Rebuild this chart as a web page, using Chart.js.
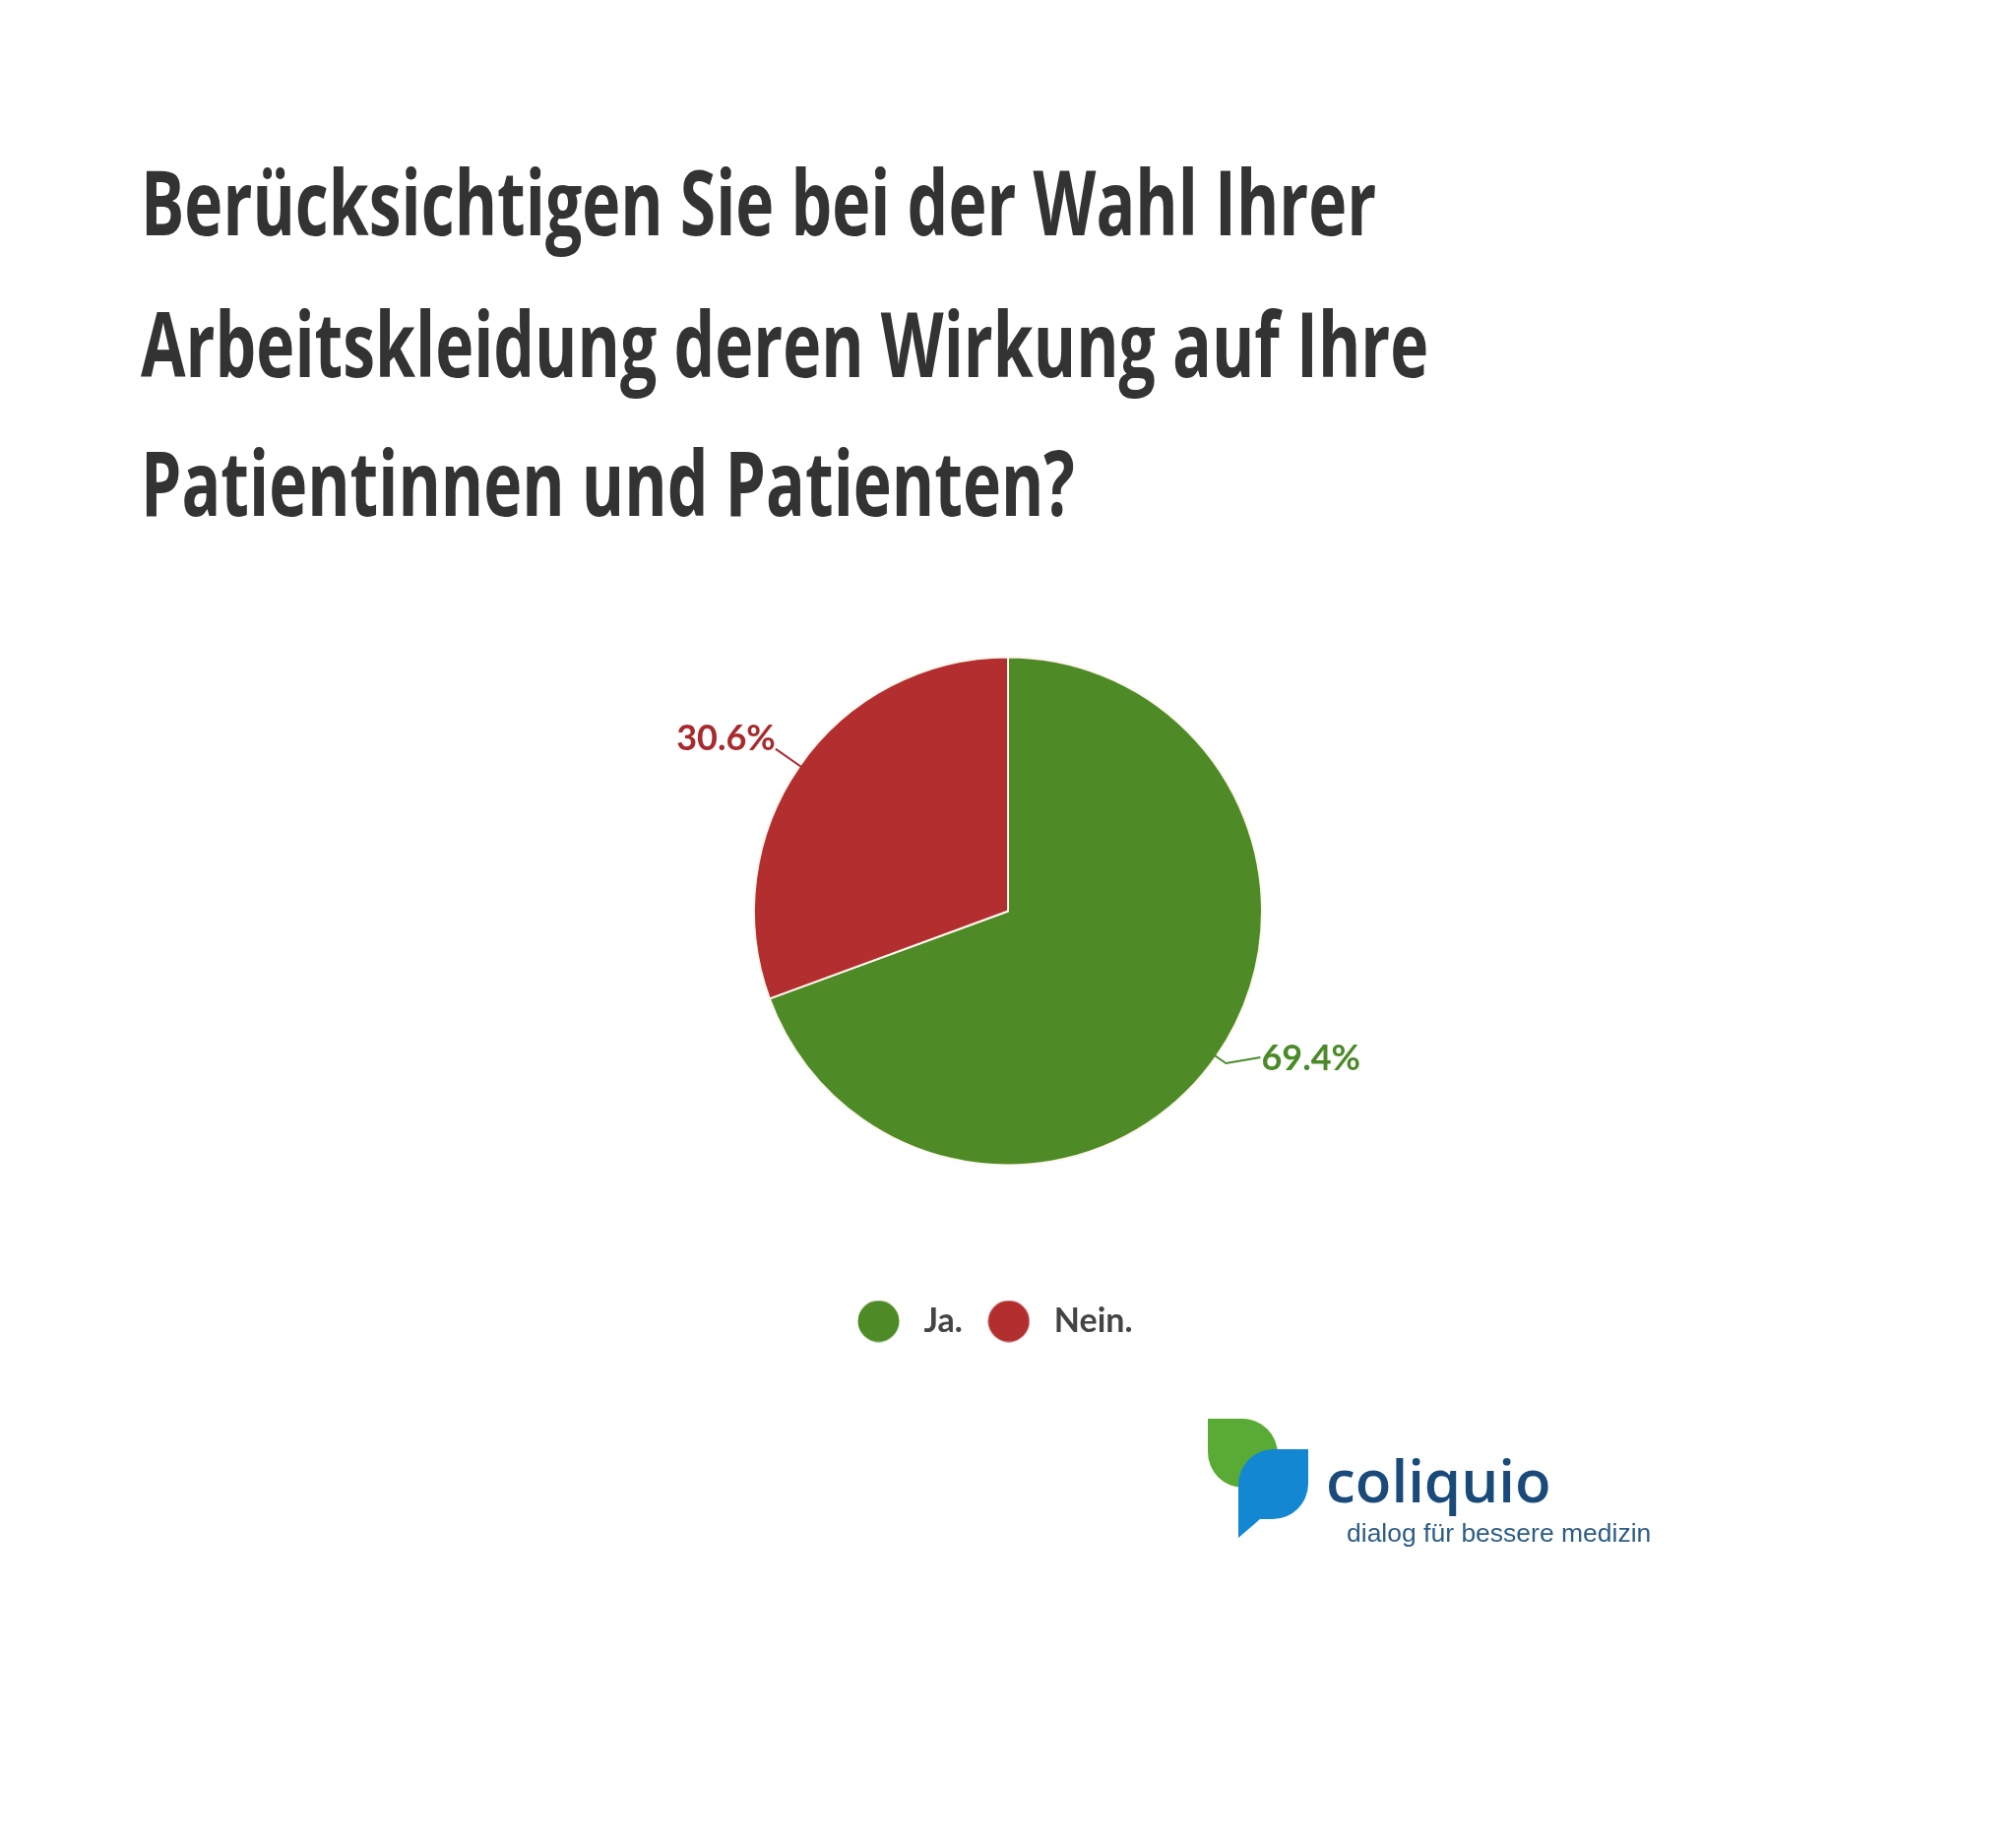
<!DOCTYPE html>
<html lang="de">
<head>
<meta charset="utf-8">
<title>Arbeitskleidung</title>
<script src="https://cdn.jsdelivr.net/npm/chart.js@4.4.1/dist/chart.umd.min.js"></script>
<style>
  html, body { margin: 0; padding: 0; background: #fff; }
  #page { position: relative; width: 2048px; height: 1873px; overflow: hidden; background: #fff; }
  .titel { position: absolute; left: 143px; font-family: "Liberation Sans Narrow", "Open Sans", sans-serif;
           font-weight: bold; font-size: 92px; line-height: 1; color: #333; white-space: nowrap;
           transform-origin: 0 0; }
  #chartBox { position: absolute; left: 0; top: 504px; width: 2048px; height: 865px; }
  #logo { position: absolute; left: 0; top: 0; }
  .logoText { position: absolute; white-space: nowrap; }
</style>
</head>
<body>
<div id="page">
  <div class="titel" id="t1" style="top:158px">Berücksichtigen Sie bei der Wahl Ihrer</div>
  <div class="titel" id="t2" style="top:302px">Arbeitskleidung deren Wirkung auf Ihre</div>
  <div class="titel" id="t3" style="top:443px">Patientinnen und Patienten?</div>

  <div id="chartBox"><canvas id="myChart"></canvas></div>

  <svg id="logo" width="2048" height="1873">
    <path d="M1227,1441 H1262 A36,36 0 0 1 1298,1477 V1511 H1263 A36,36 0 0 1 1227,1475 Z" fill="#5aab35"/>
    <path d="M1258,1508 A36,36 0 0 1 1294,1472 H1329 V1507 A36,36 0 0 1 1293,1543 H1280 L1258,1562 Z" fill="#1487d2"/>
  </svg>
  <div class="logoText" style="left:1347px; top:1462px; font-family:'Open Sans',sans-serif; font-weight:600; font-size:60px; color:#194a79;">coliquio</div>
  <div class="logoText" style="left:1368px; top:1542px; font-family:'Liberation Sans',Arial,sans-serif; font-size:26.5px; color:#2d5d84;">dialog für bessere medizin</div>
</div>

<script>
// Daten
const kategorien = ['Ja.', 'Nein.'];
const anteile = [69.4, 30.6];
const farben = ['#4e8b26', '#b22e2f'];
const textFarben = ['#4a8a29', '#a92a2e'];

// Titel auf die Breite des Originals stauchen
const t2 = document.getElementById('t2');
const faktor = 1308 / t2.offsetWidth;
['t1', 't2', 't3'].forEach(function (id) {
  document.getElementById(id).style.transform = 'scaleX(' + faktor + ')';
});

// runder Punkt fuer die Legende
function punkt(farbe) {
  const c = document.createElement('canvas');
  c.width = 43;
  c.height = 43;
  const g = c.getContext('2d');
  g.fillStyle = farbe;
  g.beginPath();
  g.arc(21.5, 21.5, 21, 0, Math.PI * 2);
  g.fill();
  return c;
}

// Prozentwerte mit Linie neben die Stuecke schreiben
const beschriftung = {
  id: 'beschriftung',
  afterDatasetsDraw(chart) {
    const ctx = chart.ctx;
    const meta = chart.getDatasetMeta(0);
    meta.data.forEach(function (arc, i) {
      const p = arc.getProps(['x', 'y', 'startAngle', 'endAngle', 'outerRadius'], true);
      const mitte = (p.startAngle + p.endAngle) / 2;
      const dx = Math.cos(mitte), dy = Math.sin(mitte);
      const r = p.outerRadius;
      const text = anteile[i].toFixed(1) + '%';
      ctx.save();
      ctx.strokeStyle = textFarben[i];
      ctx.fillStyle = textFarben[i];
      ctx.lineWidth = 2;
      ctx.font = 'bold 36px Lato';
      ctx.beginPath();
      ctx.moveTo(p.x + dx * (r - 2), p.y + dy * (r - 2));
      if (dx < 0) {
        const ex = p.x + dx * (r + 30), ey = p.y + dy * (r + 30);
        ctx.lineTo(ex, ey);
        ctx.stroke();
        ctx.textAlign = 'right';
        ctx.textBaseline = 'alphabetic';
        ctx.fillText(text, ex, ey + 1);
      } else {
        const mx = p.x + dx * (r + 12), my = p.y + dy * (r + 12);
        const ex = mx + 35, ey = my - 6;
        ctx.lineTo(mx, my);
        ctx.lineTo(ex, ey);
        ctx.stroke();
        ctx.textAlign = 'left';
        ctx.textBaseline = 'middle';
        ctx.fillText(text, ex + 1, ey + 1);
      }
      ctx.restore();
    });
  }
};

// Legende etwas nach links, Chart.js zaehlt den Abstand hinter dem letzten Eintrag mit
const legendeVerschieben = {
  id: 'legendeVerschieben',
  afterLayout(chart) {
    chart.legend.left -= 17;
    chart.legend.right -= 17;
  }
};

const ctx = document.getElementById('myChart');

const data = {
  labels: kategorien,
  datasets: [{
    data: anteile,
    backgroundColor: farben,
    borderColor: '#fdf6ee',
    borderWidth: 2,
    hoverOffset: 0
  }]
};

const standardLabels = Chart.overrides.pie.plugins.legend.labels.generateLabels;

const config = {
  type: 'pie',
  data,
  options: {
    responsive: true,
    maintainAspectRatio: false,
    animation: false,
    layout: { padding: { left: 765, right: 765, top: 40, bottom: 0 } },
    plugins: {
      tooltip: { enabled: false },
      legend: {
        position: 'bottom',
        labels: {
          usePointStyle: true,
          pointStyleWidth: 58,
          padding: 18,
          color: '#444',
          font: { family: 'Lato', size: 34, weight: 'bold' },
          generateLabels(chart) {
            return standardLabels(chart).map(function (item, i) {
              item.pointStyle = punkt(farben[i]);
              return item;
            });
          }
        }
      }
    }
  },
  plugins: [beschriftung, legendeVerschieben]
};

const Mychart = new Chart(ctx, config);
</script>
</body>
</html>
